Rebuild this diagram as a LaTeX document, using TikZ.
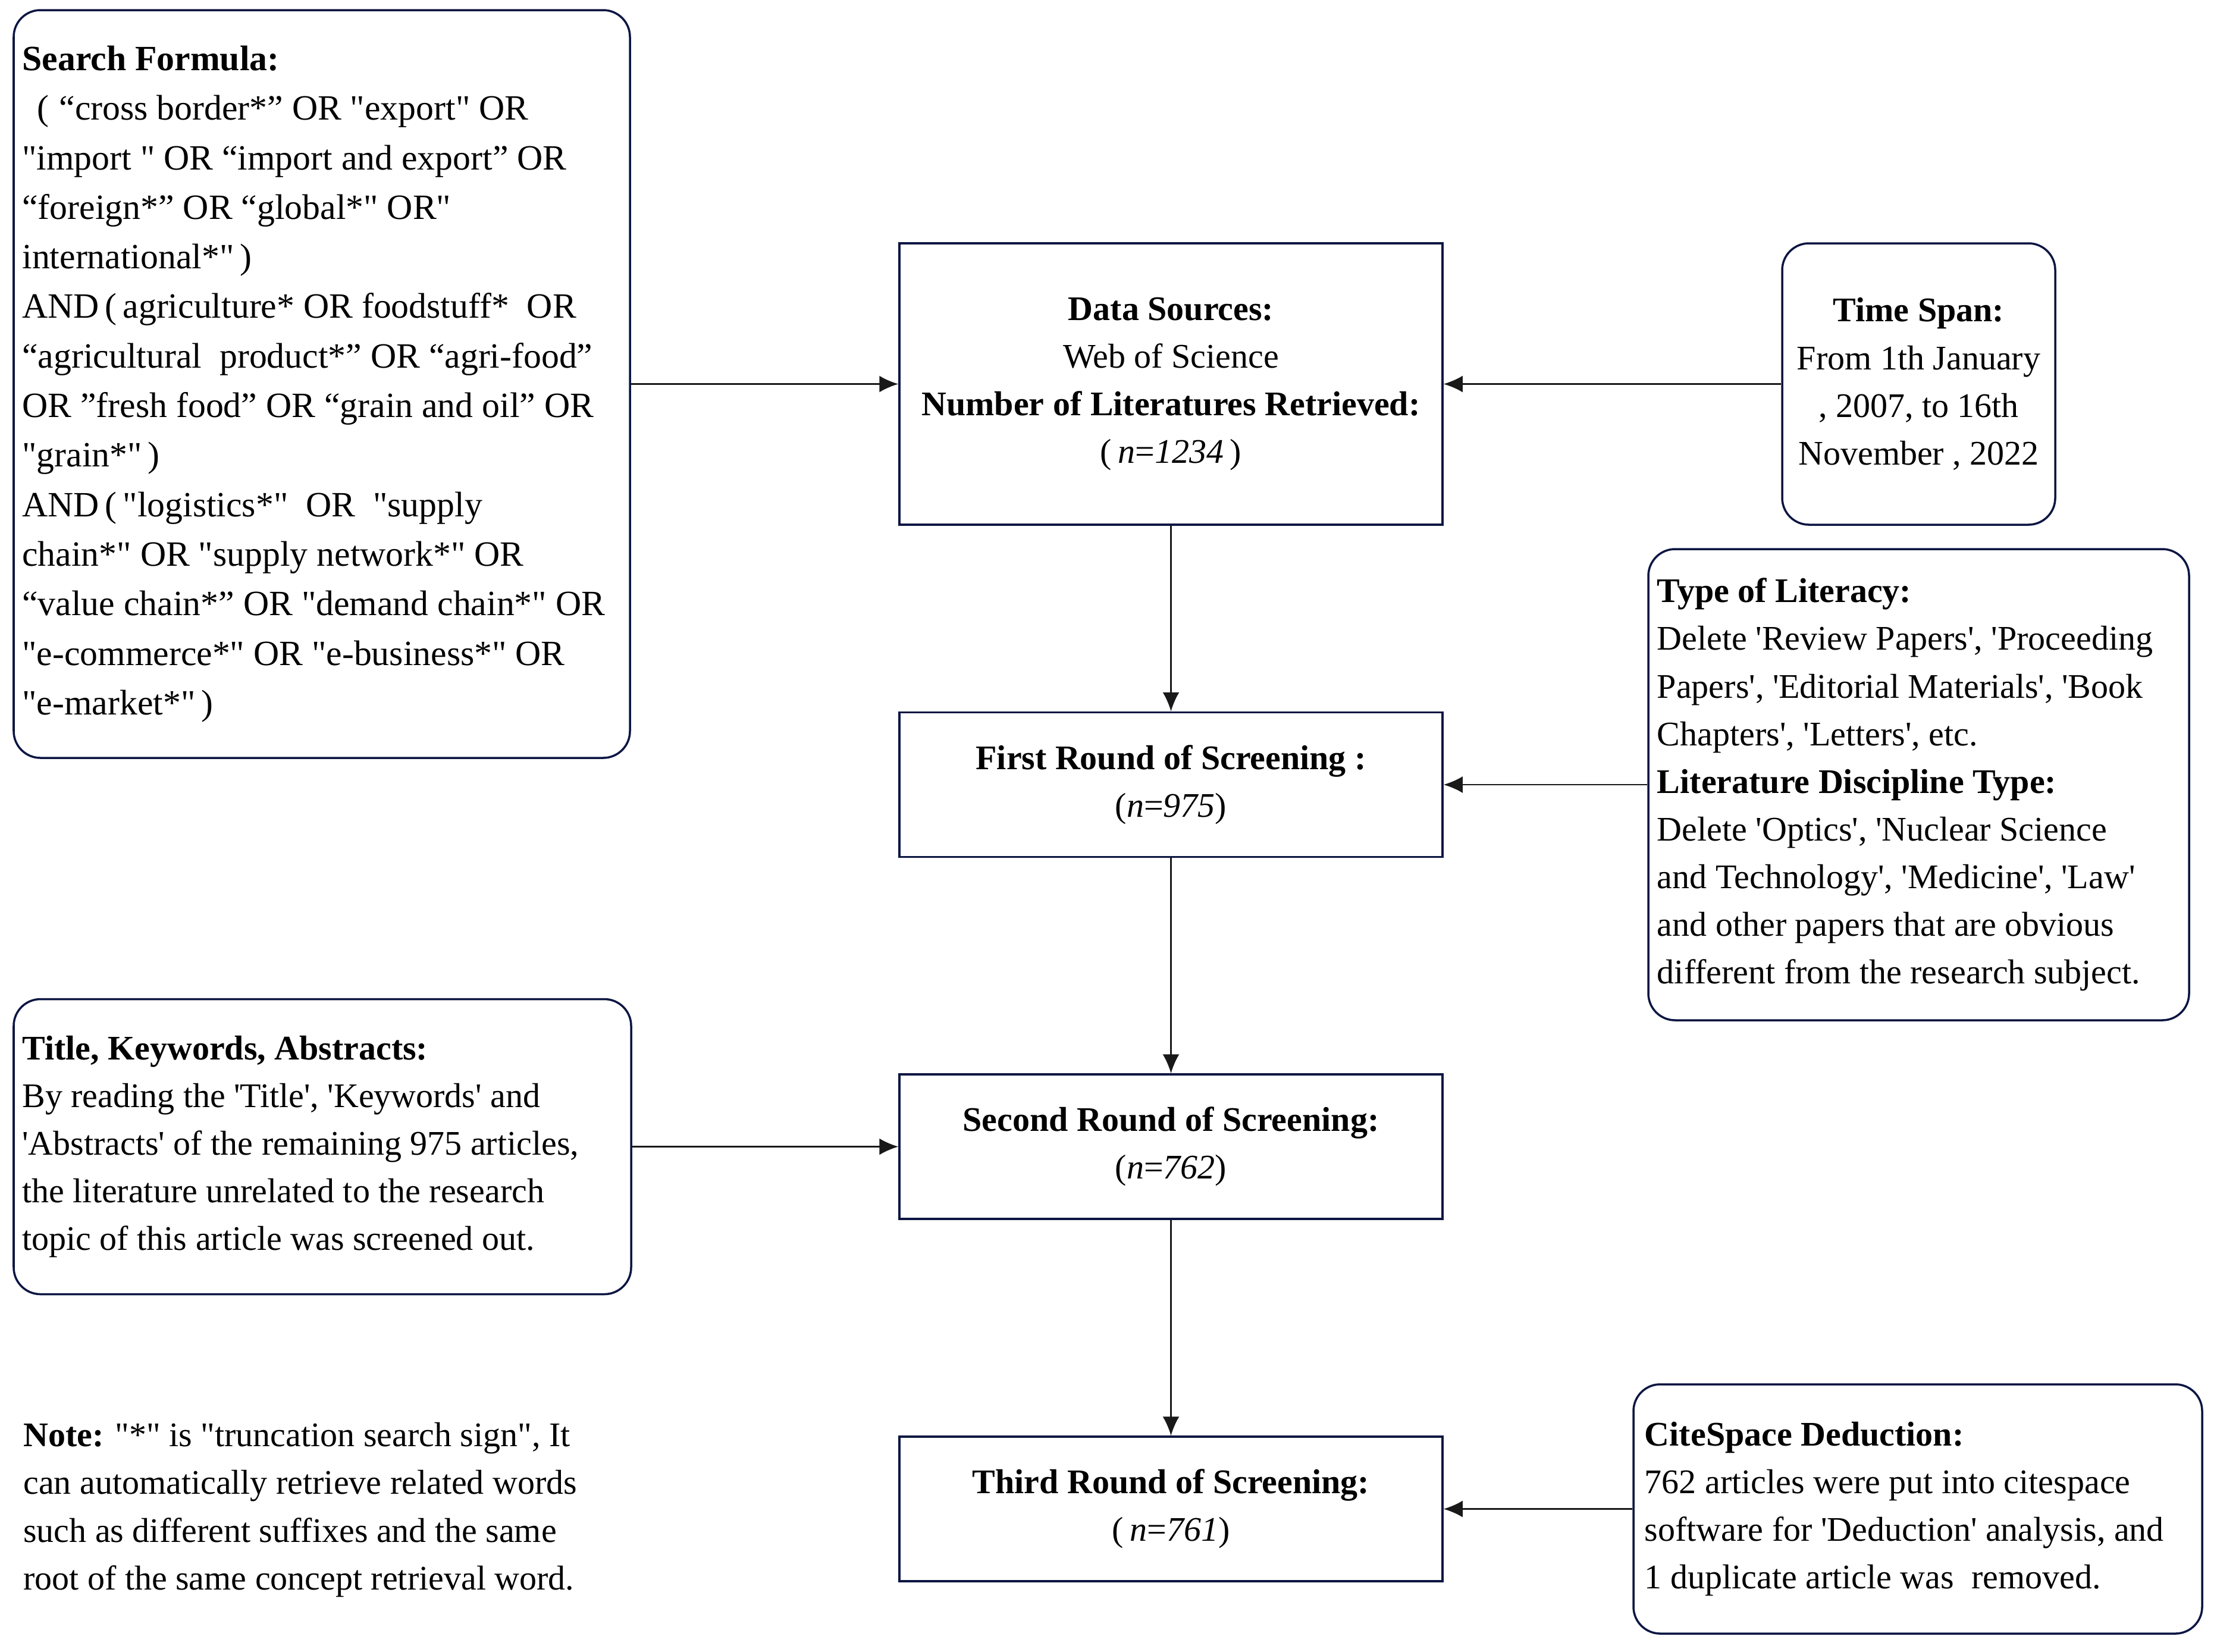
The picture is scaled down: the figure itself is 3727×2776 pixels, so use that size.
\documentclass[tikz,border=0pt]{standalone}
\usepackage{fontspec}
\newfontfamily\tnr{Liberation Serif}
\usetikzlibrary{arrows.meta}
\definecolor{boxc}{RGB}{12,22,66}
\definecolor{linec}{RGB}{25,25,25}
\tikzset{
  rbox/.style={draw=boxc, line width=1pt, rounded corners=4.5mm, inner sep=0pt},
  sbox/.style={draw=boxc, line width=1pt, inner sep=0pt, align=center, font=\tnr\fontsize{16.5}{22.8}\selectfont},
  txt/.style={inner sep=0pt, align=left, anchor=west, font=\tnr\fontsize{16.5}{22.8}\selectfont},
  conn/.style={draw=linec, line width=0.7pt, -{Latex[length=3.2mm,width=2.8mm]}},
}
\begin{document}
\begin{tikzpicture}[x=0.1mm,y=-0.1mm]
\useasboundingbox (0,0) rectangle (3727,2776);

% ---- boxes ----
\node[rbox, minimum width=103.6mm, minimum height=125.7mm] (search) at (541,645.5) {};
\node[txt, font=\tnr\fontsize{17}{23.7}\selectfont] (searcht) at ([xshift=1.55mm]search.west) {%
\textbf{Search Formula:}\\
\hspace*{7pt}(\hspace{5pt}“cross border*” OR "export" OR\\
"import " OR “import and export” OR\\
“foreign*” OR “global*" OR"\\
international*"\,)\\
AND\,(\,agriculture* OR foodstuff*\ \ OR\\
“agricultural\ \ product*” OR “agri-food”\\
OR ”fresh food” OR “grain and oil” OR\\
"grain*"\,)\\
AND\,(\,"logistics*"\ \ OR\ \ "supply\\
chain*" OR "supply network*" OR\\
“value chain*” OR "demand chain*" OR\\
"e-commerce*" OR "e-business*" OR\\
"e-market*"\,)};

\node[sbox, minimum width=91.3mm, minimum height=47.3mm] (data) at (1968.5,645.5) {%
\textbf{Data Sources:}\\
Web of Science\\
\textbf{Number of Literatures Retrieved:}\\
(\hspace{3pt}\textit{n}=\textit{1234}\hspace{3pt})};

\node[rbox, minimum width=45.9mm, minimum height=47.3mm] (time) at (3225.5,645.5) {};
\node[inner sep=0pt, align=center, font=\tnr\fontsize{16.5}{22.8}\selectfont] (timet) at (time.center) {%
\textbf{Time Span:}\\
From 1th January\\
, 2007, to 16th\\
November , 2022};

\node[rbox, minimum width=90.9mm, minimum height=79.2mm] (type) at (3225.5,1319) {};
\node[txt] (typet) at ([xshift=1.6mm]type.west) {%
\textbf{Type of Literacy:}\\
Delete 'Review Papers', 'Proceeding\\
Papers', 'Editorial Materials', 'Book\\
Chapters', 'Letters', etc.\\
\textbf{Literature Discipline Type:}\\
Delete 'Optics', 'Nuclear Science\\
and Technology', 'Medicine', 'Law'\\
and other papers that are obvious\\
different from the research subject.};

\node[sbox, minimum width=91.3mm, minimum height=24.3mm] (first) at (1968.5,1319) {%
\textbf{First Round of Screening :}\\
(\textit{n}=\textit{975})};

\node[rbox, minimum width=103.8mm, minimum height=49.6mm] (title) at (542,1927.5) {};
\node[txt] (titlet) at ([xshift=1.55mm]title.west) {%
\textbf{Title, Keywords, Abstracts:}\\
By reading the 'Title', 'Keywords' and\\
'Abstracts' of the remaining 975 articles,\\
the literature unrelated to the research\\
topic of this article was screened out.};

\node[sbox, minimum width=91.3mm, minimum height=24.3mm] (second) at (1968.5,1927.5) {%
\textbf{Second Round of Screening:}\\
(\textit{n}=\textit{762})};

\node[sbox, minimum width=91.3mm, minimum height=24.3mm] (third) at (1968.5,2536.5) {%
\textbf{Third Round of Screening:}\\
(\hspace{3pt}\textit{n}=\textit{761})};

\node[rbox, minimum width=95.6mm, minimum height=41.9mm] (cite) at (3224,2536.5) {};
\node[txt] (citet) at ([xshift=2.0mm]cite.west) {%
\textbf{CiteSpace Deduction:}\\
762 articles were put into citespace\\
software for 'Deduction' analysis, and\\
1 duplicate article was\ \ removed.};

\node[txt] (note) at (38.6,2538) {%
\textbf{Note:} "*" is "truncation search sign", It\\
can automatically retrieve related words\\
such as different suffixes and the same\\
root of the same concept retrieval word.};

% ---- connectors ----
\draw[conn] (search.east) -- (data.west);
\draw[conn] (time.west) -- (data.east);
\draw[conn] (data.south) -- (first.north);
\draw[conn] (type.west) -- (first.east);
\draw[conn] (first.south) -- (second.north);
\draw[conn] (title.east) -- (second.west);
\draw[conn] (second.south) -- (third.north);
\draw[conn] (cite.west) -- (third.east);
\end{tikzpicture}
\end{document}
